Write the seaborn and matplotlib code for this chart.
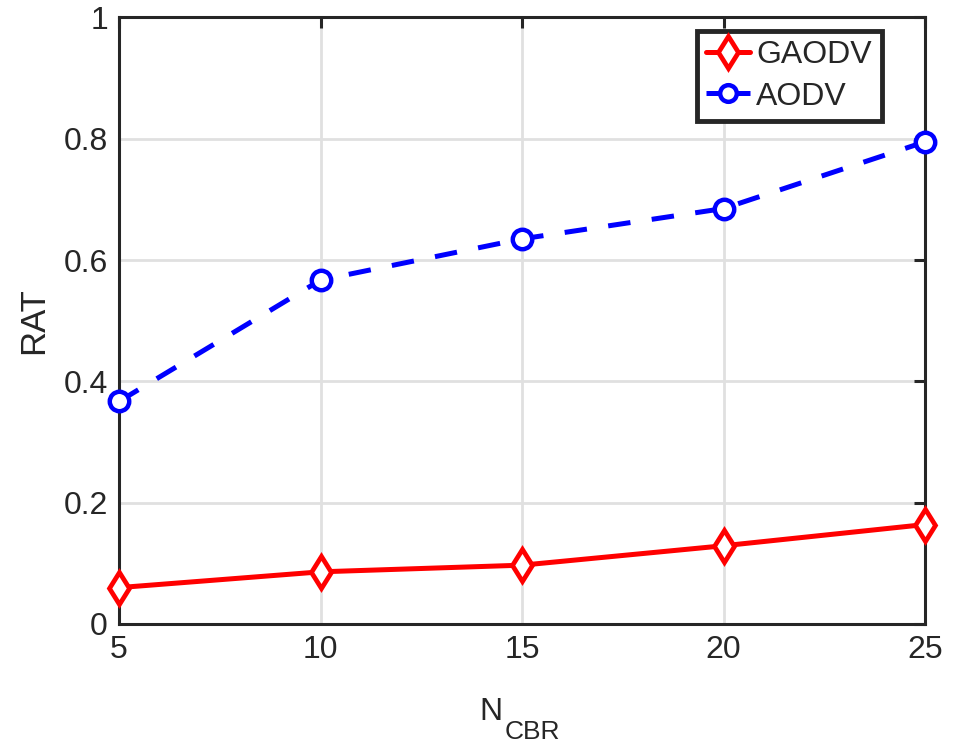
import matplotlib
matplotlib.use("Agg")
import matplotlib.pyplot as plt
import seaborn as sns
import pandas as pd
from matplotlib.lines import Line2D

# Number of CBR flows and route-acquisition time for each protocol
n_cbr = [5, 10, 15, 20, 25]
gaodv = [0.060, 0.086, 0.097, 0.129, 0.164]
aodv = [0.367, 0.567, 0.635, 0.685, 0.795]
y_ticks = [0, 0.2, 0.4, 0.6, 0.8, 1]
y_tick_labels = ["0", "0.2", "0.4", "0.6", "0.8", "1"]

sns.set_theme(style="white")
plt.rcParams["font.family"] = ["Liberation Sans", "DejaVu Sans"]

df = pd.DataFrame({
    "N": n_cbr * 2,
    "RAT": gaodv + aodv,
    "Protocol": ["GAODV"] * len(n_cbr) + ["AODV"] * len(n_cbr),
})

fig = plt.figure(figsize=(9.56, 7.44), dpi=100)
ax = fig.add_axes([0.1245, 0.1613, 0.8431, 0.8152])

palette = {"GAODV": "#ff0000", "AODV": "#0000ff"}
sns.lineplot(
    data=df, x="N", y="RAT", hue="Protocol", style="Protocol",
    palette=palette,
    markers={"GAODV": "d", "AODV": "o"},
    dashes={"GAODV": "", "AODV": (4.5, 4.3)},
    linewidth=3.6, markersize=14, markeredgewidth=3.2,
    markerfacecolor="white", ax=ax, legend=False, zorder=3,
)
for line in ax.lines:
    line.set_markeredgecolor(line.get_color())
    if line.get_marker() == "d":
        line.set_markersize(16.5)
        line.set_markeredgewidth(3.4)
    line.set_clip_on(False)

ax.set_xlim(5, 25)
ax.set_ylim(0, 1)
ax.set_xticks(n_cbr)
ax.set_xticklabels([str(v) for v in n_cbr])
ax.set_yticks(y_ticks)
ax.set_yticklabels(y_tick_labels)

ax.grid(True, color="#e0e0e0", linewidth=2.0)
ax.set_axisbelow(True)
for s in ax.spines.values():
    s.set_visible(True)
    s.set_color("#262626")
    s.set_linewidth(2.2)

ax.tick_params(axis="both", direction="in", length=8, width=2.2,
               colors="#262626", labelsize=23, labelcolor="#262626",
               top=True, right=True, pad=8)

ax.set_xlabel("")
ax.set_ylabel("RAT", fontsize=25, color="#262626", labelpad=10)

# x label: N with a large CBR subscript
fig.text(479 / 956, 1 - 720 / 744, "N", fontsize=23, color="#262626",
         ha="left", va="baseline")
fig.text(505 / 956, 1 - 739 / 744, "CBR", fontsize=19, color="#262626",
         ha="left", va="baseline")

handles = [
    Line2D([], [], color="#ff0000", linestyle="-", linewidth=3.6, marker="d",
           markersize=16.5, markeredgewidth=3.4, markerfacecolor="white",
           markeredgecolor="#ff0000"),
    Line2D([], [], color="#0000ff", linestyle="--", linewidth=3.6, marker="o",
           markersize=12, markeredgewidth=3.2, markerfacecolor="white",
           markeredgecolor="#0000ff"),
]
leg = ax.legend(handles, ["GAODV", "AODV"], loc="upper right",
                bbox_to_anchor=(0.946, 0.978), borderaxespad=0,
                fontsize=23, frameon=True, fancybox=False,
                handlelength=1.37, handletextpad=0.2, borderpad=0.3,
                labelspacing=0.35)
leg.get_frame().set_edgecolor("#262626")
leg.get_frame().set_linewidth(3.5)
leg.get_frame().set_alpha(1)

fig.savefig("out.png", dpi=100)
